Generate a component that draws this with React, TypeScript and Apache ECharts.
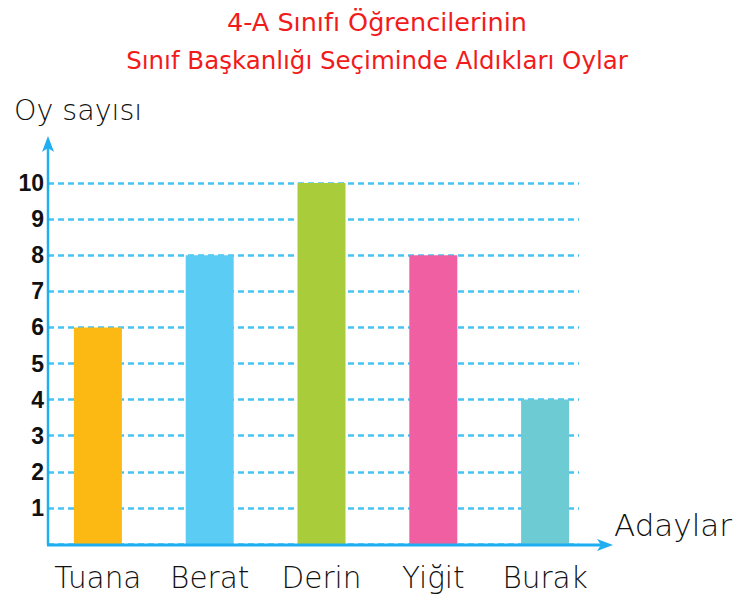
import React, { useEffect, useRef } from "react";
import * as echarts from "echarts";

const titleLines = ["4-A Sınıfı Öğrencilerinin", "Sınıf Başkanlığı Seçiminde Aldıkları Oylar"];
const categories = ["Tuana", "Berat", "Derin", "Yiğit", "Burak"];
const votes = [6, 8, 10, 8, 4];
const barColors = ["#FDB913", "#5BCDF5", "#A9CD3A", "#EF5FA1", "#6CCBD3"];
const yTicks = [1, 2, 3, 4, 5, 6, 7, 8, 9, 10];
const yAxisName = "Oy sayısı";
const xAxisName = "Adaylar";

export default function App() {
  const ref = useRef<HTMLDivElement>(null);
  useEffect(() => {
    document.body.style.margin = "0";
    const chart = echarts.init(ref.current!, null, { renderer: "svg" });
    const axisColor = "#1FAEF0";
    const top = 183;
    const bottom = 57;
    chart.setOption({
      animation: false,
      backgroundColor: "#ffffff",
      title: [
        {
          text: titleLines[0],
          left: 372,
          top: 4,
          textAlign: "center",
          textStyle: { color: "#F21B1B", fontSize: 25.5, fontWeight: "normal", fontFamily: "DejaVu Sans" },
        },
        {
          text: titleLines[1],
          left: 372,
          top: 43,
          textAlign: "center",
          textStyle: { color: "#F21B1B", fontSize: 24.5, fontWeight: "normal", fontFamily: "DejaVu Sans" },
        },
      ],
      grid: [
        { left: 42, width: 559, top, bottom, containLabel: false },
        { left: 48, width: 531, top, bottom, containLabel: false },
      ],
      xAxis: [
        {
          type: "category",
          gridIndex: 0,
          data: categories,
          axisLine: { show: false },
          axisTick: { show: false },
          axisLabel: {
            interval: 0,
            hideOverlap: false,
            color: "#111",
            fontSize: 29.5,
            fontFamily: "DejaVu Sans",
            fontWeight: 300,
            margin: 19,
          },
        },
        { type: "value", gridIndex: 1, show: false, min: 0, max: 1 },
      ],
      yAxis: [
        { type: "value", gridIndex: 0, min: 0, max: 10, show: false },
        {
          type: "value",
          gridIndex: 1,
          min: 0,
          max: 10,
          interval: 1,
          axisLine: { show: false },
          axisTick: { show: false },
          axisLabel: {
            color: "#111",
            fontSize: 23,
            fontWeight: "bold",
            fontFamily: "Liberation Sans",
            margin: 4,
            formatter: (v: number) => (yTicks.includes(v) ? String(v) : ""),
          },
          splitLine: { show: true, lineStyle: { color: "#45C3F2", type: [6, 4], width: 2.5 } },
        },
      ],
      graphic: [
        {
          type: "line",
          shape: { x1: 48, y1: 545, x2: 48, y2: 140 },
          style: { stroke: axisColor, lineWidth: 2.5 },
          z: 10,
        },
        {
          type: "polygon",
          shape: { points: [[48, 136], [42, 152], [48, 148], [54, 152]] },
          style: { fill: axisColor },
          z: 10,
        },
        {
          type: "line",
          shape: { x1: 47, y1: 545, x2: 608, y2: 545 },
          style: { stroke: axisColor, lineWidth: 3 },
          z: 10,
        },
        {
          type: "polygon",
          shape: { points: [[613, 545], [597, 539], [601, 545], [597, 551]] },
          style: { fill: axisColor },
          z: 10,
        },
        {
          type: "text",
          left: 14,
          top: 96,
          style: { text: yAxisName, fontSize: 28.5, fontFamily: "DejaVu Sans", fontWeight: 300, fill: "#111" },
        },
        {
          type: "text",
          left: 614,
          top: 509,
          style: { text: xAxisName, fontSize: 31, fontFamily: "DejaVu Sans", fontWeight: 300, fill: "#111" },
        },
      ],
      series: [
        {
          type: "bar",
          xAxisIndex: 0,
          yAxisIndex: 0,
          barWidth: 48,
          data: votes.map((v, i) => ({ value: v, itemStyle: { color: barColors[i] } })),
          z: 5,
        },
      ],
    });
    return () => chart.dispose();
  }, []);
  return <div ref={ref} style={{ width: 748, height: 601 }} />;
}
